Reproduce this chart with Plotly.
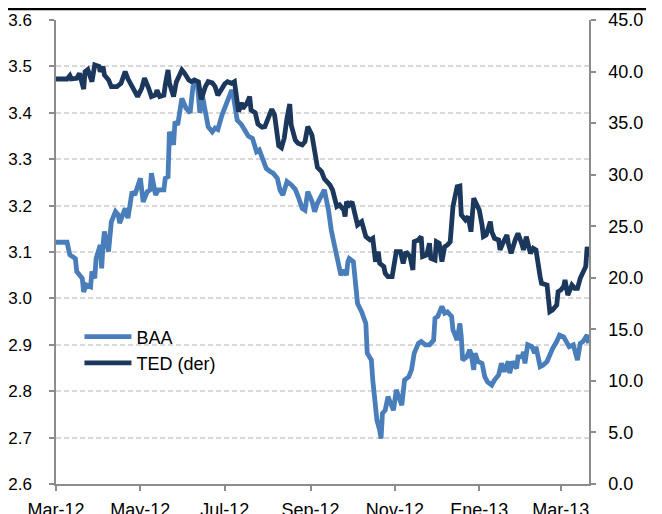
import plotly.graph_objects as go

# ---------------- data ----------------
baa_dates = [
    "2012-03-01", "2012-03-09", "2012-03-11", "2012-03-15", "2012-03-16", "2012-03-20",
    "2012-03-21", "2012-03-23", "2012-03-26", "2012-03-27", "2012-03-29", "2012-03-30",
    "2012-04-02", "2012-04-03", "2012-04-04", "2012-04-05", "2012-04-08", "2012-04-10",
    "2012-04-13", "2012-04-15", "2012-04-16", "2012-04-20", "2012-04-22", "2012-04-25",
    "2012-04-27", "2012-05-01", "2012-05-03", "2012-05-06", "2012-05-08", "2012-05-09",
    "2012-05-12", "2012-05-14", "2012-05-18", "2012-05-19", "2012-05-21", "2012-05-22",
    "2012-05-25", "2012-05-26", "2012-05-28", "2012-05-31", "2012-06-03", "2012-06-06",
    "2012-06-08", "2012-06-11", "2012-06-13", "2012-06-15", "2012-06-19", "2012-06-22",
    "2012-06-24", "2012-06-26", "2012-06-29", "2012-07-01", "2012-07-03", "2012-07-06",
    "2012-07-07", "2012-07-10", "2012-07-13", "2012-07-16", "2012-07-18", "2012-07-21",
    "2012-07-24", "2012-07-26", "2012-07-29", "2012-07-31", "2012-08-03", "2012-08-05",
    "2012-08-08", "2012-08-10", "2012-08-12", "2012-08-15", "2012-08-18", "2012-08-21",
    "2012-08-23", "2012-08-26", "2012-08-28", "2012-08-30", "2012-09-02", "2012-09-04",
    "2012-09-06", "2012-09-09", "2012-09-11", "2012-09-14", "2012-09-16", "2012-09-19",
    "2012-09-21", "2012-09-23", "2012-09-25", "2012-09-27", "2012-09-28", "2012-09-29",
    "2012-10-02", "2012-10-03", "2012-10-04", "2012-10-05", "2012-10-08", "2012-10-10",
    "2012-10-11", "2012-10-12", "2012-10-15", "2012-10-16", "2012-10-19", "2012-10-21",
    "2012-10-22", "2012-10-23", "2012-10-25", "2012-10-27", "2012-10-30", "2012-10-31",
    "2012-11-02", "2012-11-05", "2012-11-06", "2012-11-08", "2012-11-11", "2012-11-13",
    "2012-11-15", "2012-11-18", "2012-11-20", "2012-11-23", "2012-11-26", "2012-11-29",
    "2012-11-30", "2012-12-02", "2012-12-05", "2012-12-07", "2012-12-09", "2012-12-12",
    "2012-12-13", "2012-12-16", "2012-12-18", "2012-12-19", "2012-12-20", "2012-12-23",
    "2012-12-25", "2012-12-26", "2012-12-28", "2012-12-29", "2012-12-31", "2013-01-03",
    "2013-01-05", "2013-01-07", "2013-01-10", "2013-01-12", "2013-01-15", "2013-01-17",
    "2013-01-19", "2013-01-22", "2013-01-23", "2013-01-25", "2013-01-28", "2013-01-29",
    "2013-02-01", "2013-02-02", "2013-02-03", "2013-02-05", "2013-02-08", "2013-02-10",
    "2013-02-11", "2013-02-14", "2013-02-16", "2013-02-19", "2013-02-21", "2013-02-23",
    "2013-02-26", "2013-02-28", "2013-03-03", "2013-03-05", "2013-03-07", "2013-03-10",
    "2013-03-11", "2013-03-13", "2013-03-15", "2013-03-17", "2013-03-20", "2013-03-21",
]
baa_values = [
    3.121, 3.121, 3.094, 3.086, 3.058, 3.043,
    3.014, 3.029, 3.025, 3.058, 3.043, 3.086,
    3.115, 3.065, 3.115, 3.144, 3.101, 3.165,
    3.187, 3.180, 3.162, 3.194, 3.173, 3.230,
    3.223, 3.259, 3.208, 3.230, 3.234, 3.270,
    3.223, 3.234, 3.234, 3.259, 3.262, 3.359,
    3.331, 3.381, 3.374, 3.431, 3.410, 3.400,
    3.456, 3.470, 3.400, 3.435, 3.370, 3.359,
    3.367, 3.364, 3.395, 3.410, 3.420, 3.449,
    3.440, 3.384, 3.375, 3.359, 3.350, 3.345,
    3.316, 3.320, 3.295, 3.280, 3.273, 3.270,
    3.259, 3.233, 3.223, 3.252, 3.245, 3.235,
    3.220, 3.194, 3.190, 3.230, 3.210, 3.187,
    3.205, 3.222, 3.234, 3.190, 3.147, 3.105,
    3.076, 3.050, 3.061, 3.050, 3.079, 3.086,
    3.079, 3.054, 3.025, 2.989, 2.971, 2.953,
    2.946, 2.882, 2.867, 2.824, 2.738, 2.716,
    2.698, 2.752, 2.759, 2.788, 2.767, 2.759,
    2.803, 2.781, 2.770, 2.824, 2.831, 2.846,
    2.882, 2.903, 2.907, 2.900, 2.900, 2.910,
    2.957, 2.961, 2.983, 2.968, 2.971, 2.961,
    2.932, 2.910, 2.946, 2.917, 2.867, 2.874,
    2.889, 2.882, 2.846, 2.882, 2.864, 2.860,
    2.831, 2.820, 2.813, 2.824, 2.835, 2.860,
    2.842, 2.864, 2.839, 2.864, 2.849, 2.874,
    2.874, 2.885, 2.860, 2.900, 2.896, 2.882,
    2.896, 2.853, 2.856, 2.864, 2.882, 2.892,
    2.907, 2.921, 2.917, 2.907, 2.896, 2.900,
    2.885, 2.867, 2.903, 2.907, 2.921, 2.903,
]

ted_dates = [
    "2012-03-01", "2012-03-09", "2012-03-11", "2012-03-12", "2012-03-16", "2012-03-18",
    "2012-03-21", "2012-03-22", "2012-03-24", "2012-03-27", "2012-03-29", "2012-04-01",
    "2012-04-02", "2012-04-04", "2012-04-05", "2012-04-08", "2012-04-10", "2012-04-14",
    "2012-04-17", "2012-04-20", "2012-04-22", "2012-04-25", "2012-04-27", "2012-04-29",
    "2012-05-02", "2012-05-04", "2012-05-07", "2012-05-09", "2012-05-12", "2012-05-13",
    "2012-05-15", "2012-05-18", "2012-05-19", "2012-05-21", "2012-05-22", "2012-05-25",
    "2012-05-27", "2012-05-31", "2012-06-02", "2012-06-05", "2012-06-07", "2012-06-09",
    "2012-06-12", "2012-06-14", "2012-06-17", "2012-06-19", "2012-06-22", "2012-06-24",
    "2012-06-26", "2012-06-29", "2012-07-01", "2012-07-03", "2012-07-06", "2012-07-08",
    "2012-07-11", "2012-07-13", "2012-07-14", "2012-07-17", "2012-07-19", "2012-07-20",
    "2012-07-23", "2012-07-25", "2012-07-28", "2012-07-30", "2012-08-01", "2012-08-04",
    "2012-08-06", "2012-08-09", "2012-08-11", "2012-08-13", "2012-08-15", "2012-08-17",
    "2012-08-18", "2012-08-21", "2012-08-23", "2012-08-26", "2012-08-28", "2012-08-30",
    "2012-09-02", "2012-09-04", "2012-09-06", "2012-09-09", "2012-09-11", "2012-09-15",
    "2012-09-17", "2012-09-20", "2012-09-22", "2012-09-25", "2012-09-26", "2012-09-27",
    "2012-09-29", "2012-10-01", "2012-10-03", "2012-10-05", "2012-10-08", "2012-10-10",
    "2012-10-11", "2012-10-14", "2012-10-16", "2012-10-18", "2012-10-20", "2012-10-21",
    "2012-10-24", "2012-10-25", "2012-10-27", "2012-10-30", "2012-11-01", "2012-11-02",
    "2012-11-05", "2012-11-07", "2012-11-09", "2012-11-12", "2012-11-14", "2012-11-15",
    "2012-11-18", "2012-11-20", "2012-11-21", "2012-11-24", "2012-11-26", "2012-11-27",
    "2012-11-30", "2012-12-01", "2012-12-03", "2012-12-05", "2012-12-07", "2012-12-09",
    "2012-12-11", "2012-12-13", "2012-12-16", "2012-12-18", "2012-12-19", "2012-12-22",
    "2012-12-24", "2012-12-26", "2012-12-28", "2012-12-30", "2013-01-01", "2013-01-03",
    "2013-01-04", "2013-01-06", "2013-01-09", "2013-01-10", "2013-01-12", "2013-01-15",
    "2013-01-16", "2013-01-18", "2013-01-21", "2013-01-22", "2013-01-24", "2013-01-27",
    "2013-01-29", "2013-02-01", "2013-02-02", "2013-02-04", "2013-02-07", "2013-02-09",
    "2013-02-11", "2013-02-14", "2013-02-15", "2013-02-19", "2013-02-20", "2013-02-21",
    "2013-02-23", "2013-02-26", "2013-02-27", "2013-03-01", "2013-03-03", "2013-03-04",
    "2013-03-06", "2013-03-09", "2013-03-11", "2013-03-13", "2013-03-15", "2013-03-17",
    "2013-03-19", "2013-03-20", "2013-03-21",
]
ted_values = [
    39.28, 39.28, 39.60, 39.28, 39.35, 39.83,
    38.30, 39.99, 40.20, 39.02, 40.64, 40.50,
    39.99, 40.48, 39.67, 39.19, 38.54, 38.54,
    38.86, 39.99, 39.30, 38.54, 38.05, 37.57,
    38.38, 39.35, 38.38, 37.57, 37.73, 38.20,
    37.57, 37.70, 38.70, 40.16, 38.90, 37.57,
    39.00, 40.16, 39.83, 39.19, 39.02, 39.19,
    39.00, 37.30, 38.54, 39.02, 38.90, 38.54,
    37.70, 38.38, 38.80, 39.02, 38.86, 39.02,
    36.10, 37.00, 36.43, 36.92, 37.57, 36.27,
    36.00, 34.90, 34.60, 34.66, 35.47, 36.35,
    35.79, 32.80, 32.60, 33.52, 35.47, 36.85,
    34.82, 33.36, 33.04, 32.88, 33.20, 34.66,
    33.85, 32.50, 30.70, 30.29, 29.60, 29.00,
    28.50, 26.90, 27.06, 26.58, 25.93, 27.38,
    27.06, 27.38, 26.25, 25.12, 25.44, 24.64,
    23.99, 23.67, 23.83, 21.56, 22.53, 21.40,
    21.08, 20.43, 20.11, 20.11, 21.73, 22.53,
    22.53, 21.40, 22.53, 22.05, 20.76, 23.51,
    23.67, 23.99, 22.05, 22.21, 23.34, 21.89,
    21.73, 23.50, 23.34, 21.56, 23.02, 23.18,
    23.50, 26.90, 28.84, 28.90, 26.10, 25.61,
    25.93, 24.47, 27.71, 27.22, 26.58, 25.12,
    23.99, 24.15, 25.44, 24.47, 23.83, 23.67,
    22.70, 23.34, 24.15, 23.34, 22.37, 23.67,
    24.31, 23.18, 22.70, 23.99, 22.37, 22.86,
    22.70, 20.11, 19.46, 19.30, 17.52, 16.71,
    16.88, 17.36, 18.66, 18.82, 19.14, 19.79,
    18.33, 19.30, 18.98, 18.98, 19.95, 20.60,
    21.10, 23.00, 22.00,
]

x_tick_dates = ["2012-03-01", "2012-05-01", "2012-07-01", "2012-09-01",
                "2012-11-01", "2013-01-01", "2013-03-01"]
x_tick_labels = ["Mar-12", "May-12", "Jul-12", "Sep-12", "Nov-12", "Ene-13", "Mar-13"]

series_names = ["BAA", "TED (der)"]

# ---------------- figure ----------------
AXIS_GRAY = "#8C8C8C"
FONT = "Liberation Sans, Arial, sans-serif"

fig = go.Figure()
fig.add_trace(go.Scatter(
    x=baa_dates, y=baa_values, name=series_names[0], mode="lines",
    line=dict(color="#4A7EBB", width=4.8), legendgroup="g1",
))
fig.add_trace(go.Scatter(
    x=ted_dates, y=ted_values, name=series_names[1], mode="lines", yaxis="y2",
    line=dict(color="#1B375C", width=4.8), legendgroup="g2",
))

# the page body has an 8px default margin, so the figure is 8px smaller
fig.update_layout(
    width=654, height=506,
    margin=dict(l=48, r=73, t=12, b=30, autoexpand=False),
    paper_bgcolor="white", plot_bgcolor="white",
    font=dict(family=FONT, color="black", size=17),
    showlegend=True,
    legend=dict(
        x=0.044, y=0.357, xanchor="left", yanchor="top",
        bgcolor="rgba(0,0,0,0)", font=dict(size=18, family=FONT),
        itemwidth=47, tracegroupgap=24, traceorder="normal",
    ),
    xaxis=dict(
        type="date", range=["2012-03-01", "2013-03-21 08:00"],
        tickmode="array", tickvals=x_tick_dates, ticktext=x_tick_labels,
        ticks="outside", ticklen=5, tickwidth=1.5, tickcolor=AXIS_GRAY,
        showline=True, linecolor=AXIS_GRAY, linewidth=1.5,
        showgrid=False, zeroline=False, tickfont=dict(size=18),
        ticklabelstandoff=4,
    ),
    yaxis=dict(
        range=[2.6, 3.6], tick0=2.6, dtick=0.1, tickformat=".1f",
        showgrid=True, gridcolor="#D9D9D9", griddash="5px,3px", gridwidth=1.5,
        showline=True, linecolor=AXIS_GRAY, linewidth=1.5,
        ticks="outside", ticklen=5, tickwidth=1.5, tickcolor=AXIS_GRAY,
        zeroline=False, tickfont=dict(size=17), ticklabelstandoff=14,
    ),
    yaxis2=dict(
        range=[0, 45], tick0=0, dtick=5, tickformat=".1f",
        overlaying="y", side="right", showgrid=False,
        showline=True, linecolor=AXIS_GRAY, linewidth=1.5,
        ticks="outside", ticklen=5, tickwidth=1.5, tickcolor=AXIS_GRAY,
        zeroline=False, tickfont=dict(size=18), ticklabelstandoff=9,
    ),
    shapes=[dict(
        type="line", xref="paper", yref="paper",
        x0=-0.105, x1=1.107, y0=1.0235, y1=1.0235,
        line=dict(color="black", width=2.5),
    )],
)

fig.write_html("out.html")
